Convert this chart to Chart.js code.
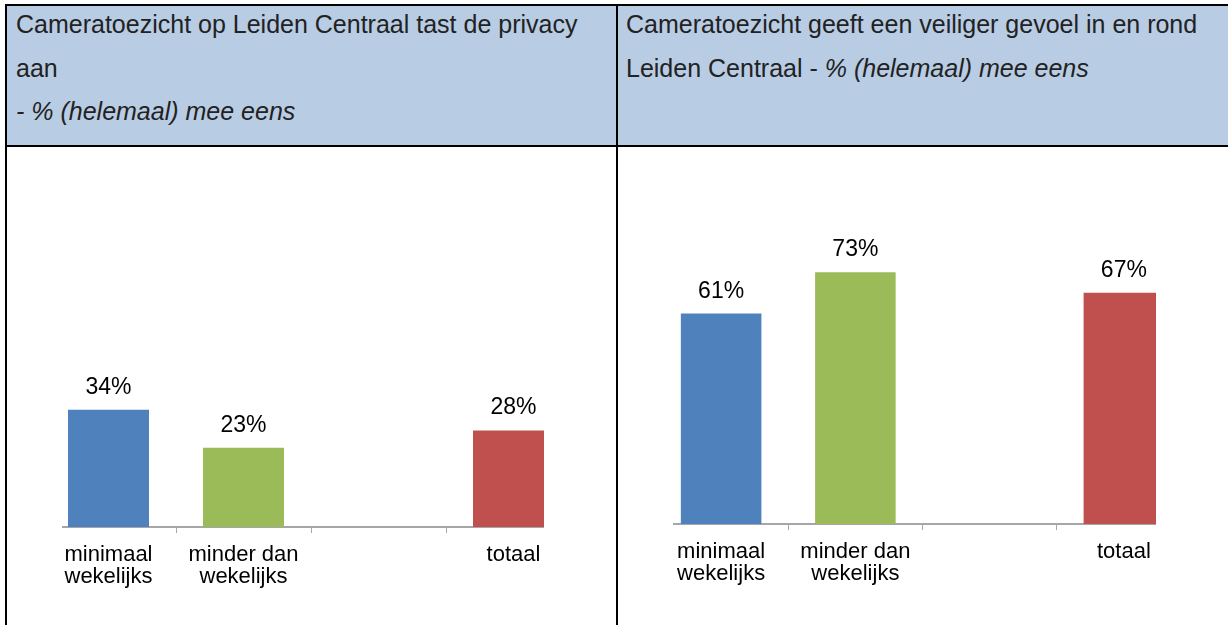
<!DOCTYPE html>
<html lang="nl">
<head>
  <meta charset="UTF-8">
  <title>Cameratoezicht Leiden Centraal</title>
  <script src="https://cdn.jsdelivr.net/npm/chart.js"></script>
  <style>
    body { margin: 0; background: #fff; width: 1228px; height: 625px; overflow: hidden; position: relative; font-family: "Liberation Sans", Arial, sans-serif; }
    .hdr { position: absolute; top: 6px; height: 139px; background: #b8cce4; }
    .line { position: absolute; background: #000; }
    .txt { position: absolute; top: 3px; font-size: 25px; line-height: 43.5px; color: #222; white-space: nowrap; }
    .clip { position: absolute; overflow: hidden; top: 150px; height: 475px; }
    .clip canvas { position: absolute; }
  </style>
</head>
<body>
  <div class="hdr" style="left:7px; width:609px"></div>
  <div class="hdr" style="left:618px; width:620px"></div>
  <div class="line" style="left:5px; top:4px; width:1240px; height:2px"></div>
  <div class="line" style="left:5px; top:145px; width:1240px; height:2px"></div>
  <div class="line" style="left:5px; top:4px; width:2px; height:700px"></div>
  <div class="line" style="left:616px; top:4px; width:2px; height:700px"></div>

  <div class="txt" style="left:16px">Cameratoezicht op Leiden Centraal tast de privacy<br>aan<br><i>- % (helemaal) mee eens</i></div>
  <div class="txt" style="left:626px">Cameratoezicht geeft een veiliger gevoel in en rond<br>Leiden Centraal - <i>% (helemaal) mee eens</i></div>

  <!-- chart plots are wider than the cell, the edges are cut off like in the original -->
  <div class="clip" style="left:62px; width:482px">
    <canvas id="chartLeft" width="540" height="425" style="left:-21px; top:32px"></canvas>
  </div>
  <div class="clip" style="left:673px; width:483px">
    <canvas id="chartRight" width="537" height="425" style="left:-19px; top:29px"></canvas>
  </div>

  <script>
    const categories = [['minimaal', 'wekelijks'], ['minder dan', 'wekelijks'], '', 'totaal'];
    const privacyValues = [34, 23, null, 28];
    const veiligerValues = [61, 73, null, 67];
    const barColors = ['#4f81bd', '#9bbb59', '#ffffff', '#c0504d'];

    // value labels above the bars
    const valueLabels = {
      id: 'valueLabels',
      afterDatasetsDraw(chart) {
        const ctx = chart.ctx;
        const meta = chart.getDatasetMeta(0);
        ctx.save();
        ctx.font = '23px "Liberation Sans", Arial, sans-serif';
        ctx.fillStyle = '#000';
        ctx.textAlign = 'center';
        ctx.textBaseline = 'alphabetic';
        meta.data.forEach((bar, i) => {
          const v = chart.data.datasets[0].data[i];
          if (v == null) return;
          ctx.fillText(v + '%', bar.x, bar.y - 16);
        });
        ctx.restore();
      }
    };

    function makeChart(id, values) {
      return new Chart(document.getElementById(id), {
        type: 'bar',
        data: {
          labels: categories,
          datasets: [{
            data: values,
            backgroundColor: barColors,
            categoryPercentage: 1,
            barPercentage: 0.6
          }]
        },
        options: {
          responsive: false,
          animation: false,
          layout: { padding: 0 },
          plugins: { legend: { display: false }, tooltip: { enabled: false } },
          scales: {
            y: { display: false, min: 0, max: 100 },
            x: {
              afterFit(scale) { scale.height = 80; },
              grid: { drawOnChartArea: false, drawTicks: true, tickLength: 6, color: '#a6a6a6', lineWidth: 1 },
              border: { color: '#a6a6a6', width: 2 },
              ticks: {
                color: '#000',
                padding: 11,
                maxRotation: 0,
                autoSkip: false,
                font: { family: '"Liberation Sans", Arial, sans-serif', size: 22, lineHeight: 1.0 }
              }
            }
          }
        },
        plugins: [valueLabels]
      });
    }

    makeChart('chartLeft', privacyValues);
    makeChart('chartRight', veiligerValues);
  </script>
</body>
</html>
